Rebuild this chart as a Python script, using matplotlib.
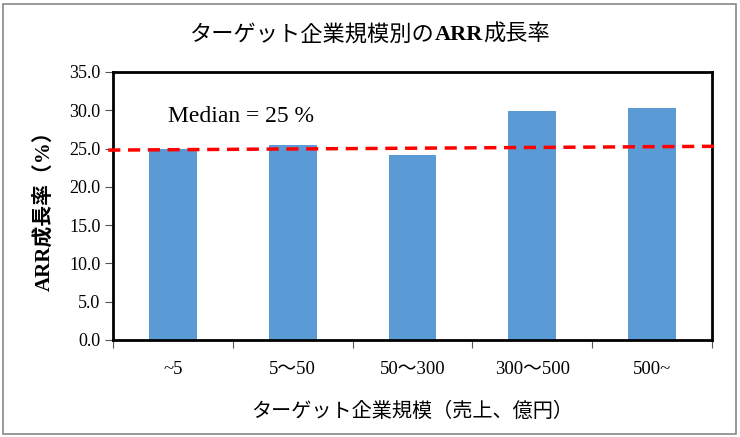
import matplotlib
matplotlib.use("Agg")
import matplotlib.pyplot as plt
from matplotlib.patches import Rectangle

plt.rcParams['font.family'] = ['Liberation Serif', 'Noto Sans CJK JP']

categories = ['~5', '5～50', '50～300', '300～500', '500~']
growth = [24.9, 25.5, 24.1, 29.9, 30.3]
# median line as drawn (slightly sloped, runs past the axes)
median_x = [-0.54, 4.57]
median_y = [24.8, 25.3]
yticks = [0, 5, 10, 15, 20, 25, 30, 35]
title_parts = ['ターゲット企業規模別の', 'ARR', '成長率']

fig = plt.figure(figsize=(7.4, 4.37), dpi=100)
ax = fig.add_axes([113/740, 1 - 340/437, (712-113)/740, (340-72)/437])

x = list(range(len(categories)))
ax.bar(x, growth, width=0.4, color='#5b9bd5', zorder=2)
ax.plot(median_x, median_y, color='#ff0000', lw=2.5, ls=(0, (3.5, 2.2)),
        clip_on=False, zorder=3)

ax.set_xlim(-0.5, 4.5)
ax.set_ylim(0, 35)
ax.set_yticks(yticks)
ax.set_yticklabels([f'{v:.1f}' for v in yticks], fontsize=13)
ax.set_xticks([i - 0.5 for i in range(6)], minor=False)
ax.set_xticklabels([])
ax.set_xticks(x, minor=True)
ax.set_xticklabels(categories, minor=True, fontsize=13.5)
ax.tick_params(axis='x', which='minor', length=0, pad=15)
ax.tick_params(axis='x', which='major', length=6, width=0.8, color='#555555')
ax.tick_params(axis='y', length=6, width=0.8, color='#555555', pad=3)
for s in ax.spines.values():
    s.set_linewidth(2)
    s.set_color('black')

ax.text(-0.04, 29.2, 'Median = 25 %', fontsize=17, ha='left', va='center')

ax.set_xlabel('ターゲット企業規模（売上、億円）', fontsize=14.5, labelpad=18)
ax.set_ylabel('ARR成長率（%）', fontsize=15, fontweight='bold')
ax.yaxis.set_label_coords(-0.098, 0.5)

# title with bold "ARR", laid out piece by piece
renderer = fig.canvas.get_renderer()
widths = []
for part in title_parts:
    w = 'bold' if part == 'ARR' else 'normal'
    tt = fig.text(0, 0, part, fontsize=16, fontweight=w)
    widths.append(tt.get_window_extent(renderer).width)
    tt.remove()
xpos = 370 - sum(widths) / 2
for part, wd in zip(title_parts, widths):
    w = 'bold' if part == 'ARR' else 'normal'
    fig.text(xpos / 740, 1 - 35/437, part, fontsize=16, fontweight=w,
             ha='left', va='center')
    xpos += wd

fig.patches.append(Rectangle((3/740, 3/437), 733/740, 430/437, transform=fig.transFigure,
                             fill=False, edgecolor='#888888', lw=1.2))

fig.savefig('out.png', dpi=100)
